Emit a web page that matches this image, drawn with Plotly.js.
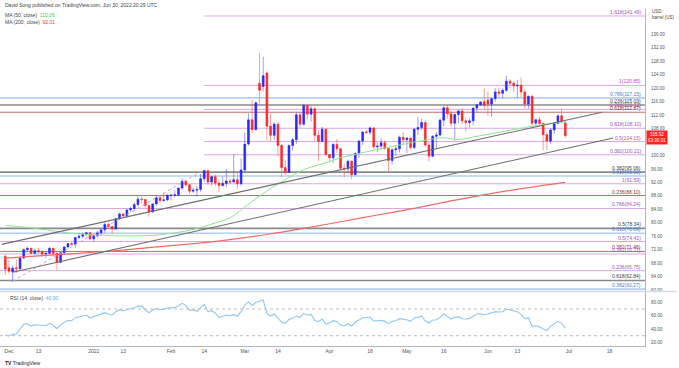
<!DOCTYPE html>
<html><head><meta charset="utf-8">
<script src="https://cdn.plot.ly/plotly-3.0.1.min.js"></script>
<style>html,body{margin:0;padding:0;background:#fff;}#chart{width:679px;height:368px;}</style>
</head><body><div id="chart"></div>
<script>
// ---------- DATA ----------
const firstDay = '2021-11-30', lastDay = '2022-06-30';
const openP = [70.0,66.6,65.4,66.6,66.3,69.5,72.0,72.4,70.9,71.7,71.3,70.7,70.9,72.4,70.9,68.2,71.1,72.8,73.8,73.6,75.6,76.0,76.6,77.0,75.2,76.1,77.0,77.9,79.5,78.9,78.2,81.2,82.6,82.1,83.8,84.2,85.4,87.0,86.9,85.1,83.3,85.6,87.4,86.6,86.8,88.1,88.2,88.3,90.3,92.3,91.3,89.4,89.7,89.9,93.1,95.5,92.1,93.7,91.8,91.1,91.7,92.4,92.1,92.8,91.6,95.7,103.4,110.6,107.7,121.5,120.5,124.5,108.7,106.0,109.3,103.0,96.4,95.0,103.0,104.7,112.1,109.3,114.9,112.3,113.9,106.0,104.2,107.8,100.3,99.3,103.3,102.0,96.2,96.0,98.3,94.3,100.6,104.3,107.0,106.9,108.2,102.6,102.8,103.8,102.1,98.5,101.7,102.0,105.4,104.7,105.2,102.4,107.8,108.3,109.8,103.1,99.8,105.7,106.1,110.5,114.2,112.4,109.6,112.2,113.2,110.3,109.8,110.3,114.1,115.1,116.0,116.5,115.3,116.9,118.9,118.5,119.4,122.1,121.5,120.7,120.9,118.9,115.3,117.6,109.6,110.6,109.5,106.2,104.3,107.6,109.6,111.8,109.7];
const highP = [70.6,69.0,67.3,69.1,69.9,72.4,72.9,72.6,72.2,72.6,71.8,71.4,72.8,72.5,71.0,71.2,72.9,73.9,74.2,75.8,76.9,77.0,77.3,77.2,76.8,77.6,78.3,80.2,80.1,79.0,81.5,83.0,82.9,84.0,84.8,86.0,87.9,87.9,87.1,85.4,85.8,88.0,88.2,88.8,88.4,88.5,89.7,90.4,93.2,92.7,91.4,90.4,91.0,94.5,95.8,95.6,93.8,94.3,92.6,93.7,96.0,93.2,100.5,95.0,99.1,106.8,112.5,116.6,116.0,130.5,129.4,125.0,112.5,110.0,110.2,103.5,98.4,103.2,105.2,112.9,113.0,115.4,115.2,114.8,114.4,107.5,108.5,108.0,100.4,103.6,104.9,102.1,97.6,98.8,98.5,101.0,104.6,107.2,107.6,108.6,108.4,104.0,105.0,104.6,102.4,102.2,103.0,105.9,107.0,105.5,105.4,108.0,111.4,111.0,110.6,103.9,106.1,107.0,111.0,114.6,115.0,113.1,112.5,113.5,114.1,111.0,111.0,114.3,115.4,116.2,120.0,119.0,117.0,120.0,120.0,120.0,123.7,122.7,122.0,122.4,123.2,119.8,117.9,118.1,111.0,111.5,109.8,106.6,108.2,110.0,112.2,114.0,110.4];
const lowP = [64.4,64.8,62.4,65.0,66.0,69.2,71.3,70.6,70.5,70.8,69.8,69.5,70.6,69.9,66.0,68.0,70.8,72.3,73.2,72.6,75.2,75.3,76.0,74.9,74.3,75.6,76.2,77.0,78.3,76.8,77.8,80.8,81.5,81.5,83.3,83.8,84.9,85.7,84.4,81.8,82.8,85.0,86.0,86.3,86.5,86.6,87.6,87.9,89.9,90.7,88.6,88.9,87.8,89.2,92.3,91.3,91.0,90.9,89.2,90.8,90.6,91.5,92.0,90.1,91.0,95.2,103.0,106.6,107.5,115.5,119.0,104.6,104.3,104.6,99.8,93.5,94.2,94.9,101.5,103.5,108.2,109.0,110.7,110.0,104.4,98.4,104.0,99.9,98.0,97.8,100.8,95.7,93.5,94.8,92.9,94.2,99.2,103.1,106.4,106.1,101.9,101.0,101.7,101.6,95.3,97.3,100.0,100.9,103.3,100.8,101.8,101.9,106.0,107.4,102.6,98.2,99.5,101.9,105.7,108.7,111.0,108.6,104.4,109.5,109.2,107.1,108.3,109.0,112.8,114.7,113.5,111.8,111.5,116.0,117.2,117.0,118.9,120.0,118.9,117.1,117.4,114.0,113.9,108.7,108.6,108.6,101.5,101.6,103.5,106.4,109.2,109.5,105.2];
const closeP = [66.2,65.6,66.5,66.3,69.5,72.0,72.4,70.9,71.7,71.3,70.7,70.9,72.4,70.9,68.2,71.1,72.8,73.8,73.6,75.6,76.0,76.6,77.0,75.2,76.1,77.0,77.9,79.5,78.9,78.2,81.2,82.6,82.1,83.8,84.2,85.4,87.0,86.9,85.1,83.3,85.6,87.4,86.6,86.8,88.2,88.2,88.3,90.3,92.3,91.3,89.4,89.7,89.9,93.1,95.5,92.1,93.7,91.8,91.1,91.7,92.4,92.1,92.8,91.6,95.7,103.4,110.6,107.7,115.7,119.4,123.7,108.7,106.0,109.3,103.0,96.4,95.0,103.0,104.7,112.1,109.3,114.9,112.3,113.9,106.0,104.2,107.8,100.3,99.3,103.3,102.0,96.2,96.0,98.3,94.3,100.6,104.3,107.0,106.9,108.2,102.6,102.8,103.8,102.1,98.5,101.7,102.0,105.4,104.7,105.2,102.4,107.8,108.3,109.8,103.1,99.8,105.7,106.1,110.5,114.2,112.4,109.6,112.2,113.2,110.3,109.8,110.3,114.1,115.1,115.9,114.9,115.3,116.9,118.9,118.5,119.4,122.1,121.5,120.7,120.9,118.9,115.3,117.6,109.6,110.6,109.5,106.2,104.3,107.6,109.6,111.8,110.1,105.92];
const rsiVals = [31,29.5,32,32.5,40,47.5,48,44.5,46.5,46,44.5,45,48.5,46,40.5,46.5,50,53,52.5,57,58,60,61,56.5,58.5,60,62,64.5,62.5,61,66,69,67.5,69.5,70.5,72,74.5,74,69,64.5,68.5,71,69,69.5,71.5,71.5,72,75,78.5,75.5,68,68.5,66.5,72,77,66,67.5,64,57,59,61,60,61.5,59.5,66,76,81,75,80,81.5,83.5,63.5,59.5,62.5,57,50.5,48.5,54.5,56,59.5,57.5,63.5,61,62,53,51,55,47.5,49,52.5,51,46,44.5,48,44.5,50.5,53.5,57,57,58,52,52,53,51.5,48,51.5,52.5,55.5,54.5,54,51.5,57,57.5,59.5,52,49,53.5,54,57.5,62.5,59,55,57.5,58.5,55.5,55,56,59.5,62.5,63,61.5,62.5,64,66,65.5,66,70,68.5,67.5,66,62,55.5,57,44,45,43.5,40,38,44,47.5,51.5,48.5,40.9];
const ma50Dates = ['2021-11-30','2021-12-08','2021-12-15','2021-12-22','2021-12-29','2022-01-05','2022-01-12','2022-01-19','2022-01-26','2022-02-02','2022-02-09','2022-02-16','2022-02-23','2022-03-02','2022-03-09','2022-03-16','2022-03-23','2022-03-30','2022-04-06','2022-04-13','2022-04-20','2022-04-27','2022-05-04','2022-05-11','2022-05-16','2022-05-20','2022-05-26','2022-06-01','2022-06-08','2022-06-15','2022-06-22','2022-06-30'];
const ma50Vals = [79.2,78.6,77.9,77.1,76.6,76.3,76.1,76.1,76.3,77.0,78.0,79.6,81.5,85.5,89.5,92.8,95.8,97.5,99.3,100.6,101.8,102.9,104.0,104.9,105.3,104.7,105.5,106.3,107.3,108.3,109.2,110.06];
const ma200Dates = ['2021-11-30','2021-12-15','2021-12-29','2022-01-12','2022-01-26','2022-02-09','2022-02-23','2022-03-09','2022-03-23','2022-04-06','2022-04-20','2022-05-04','2022-05-18','2022-06-01','2022-06-15','2022-06-30'];
const ma200Vals = [69.5,70.3,71.0,71.8,72.8,73.8,75.0,76.5,78.3,80.3,82.3,84.3,86.5,88.5,90.3,92.01];
// trendlines: [startDate, startPrice, endDate, endPrice]
const trendUpper = ['2021-11-29', 73.57, '2022-07-14', 112.85];
const trendLower = ['2021-12-02', 65.3, '2022-07-19', 105.2];
const fibConnector = ['2021-12-02', 62.6, '2022-02-14', 95.8];
// fib levels
const fibRatio = ['1.618','1','0.786','0.236','0.786','0.618','0.618','0.5','0.382','0.382','0.618','1','0.236','0.786','0.5','0.618','0.5','0.382','0.382','0.236','0.618','0.382'];
const fibPrice = [141.49,120.85,117.15,115.03,113.72,112.87,108.10,104.15,100.21,95.06,93.90,91.59,88.10,84.24,78.34,76.89,74.42,71.46,70.71,65.75,62.84,60.27];
const fibTool = ['p','p','b','g','p','r','p','p','p','g','b','p','r','p','g','b','p','r','p','p','g','b'];
const fibFrom = ['2022-02-14','2022-02-14',null,null,'2022-02-14',null,'2022-02-14','2022-02-14','2022-02-14',null,null,null,null,null,null,null,null,null,null,null,null,null];
const tickDates = ['2021-12-01','2021-12-13','2022-01-03','2022-01-13','2022-02-01','2022-02-14','2022-03-01','2022-03-14','2022-04-01','2022-04-18','2022-05-02','2022-05-16','2022-06-01','2022-06-13','2022-07-01','2022-07-18'];
const tickText = ['Dec','13','2022','13','Feb','14','Mar','14','Apr','18','May','16','Jun','13','Jul','18'];
const priceTicks = [60,64,68,72,76,80,84,88,92,96,100,108,112,116,120,124,128,132,136];
const rsiTicks = [20,40,60,80];
const lastPrice = 105.92, ma50Last = 110.06, ma200Last = 92.01, rsiLast = 40.90;

// ---------- HELPERS ----------
const DAY = 86400000;
function barIndex(s){
  const t = Date.parse(s+'T00:00:00Z'), t0 = Date.parse(firstDay+'T00:00:00Z');
  let n = 0, d = t0; const step = t >= t0 ? 1 : -1;
  while (d !== t){ d += step*DAY; const w = new Date(d).getUTCDay(); if (w!==0 && w!==6) n += step; }
  return n;
}
const N = closeP.length;
const idx = closeP.map((_, i) => i);
const X0 = -1.44, X1 = 173.64;

// colours
const UP = '#1f1fff', DN = '#ff1f1f', UPW = 'rgba(60,60,255,0.5)', DNW = 'rgba(255,60,60,0.5)';
const toolLine = {p:'#d8a8e4', b:'#b4cff6', g:'#8a8a8a', r:'#c46a6a'};
const toolText = {p:'#a652c4', b:'#4c7de0', g:'#3a3a3a', r:'#9c2a2a'};
const toolW = {p:1, b:1.6, g:1.6, r:1};

// ---------- TRACES ----------
const traces = [];
function wick(up){
  const xs=[], ys=[];
  for (let i=0;i<N;i++){ const isUp = closeP[i] >= openP[i]; if (isUp!==up) continue; xs.push(i,i,null); ys.push(lowP[i],highP[i],null); }
  return {type:'scatter', mode:'lines', x:xs, y:ys, line:{color: up?UPW:DNW, width:1}, hoverinfo:'skip', showlegend:false, xaxis:'x', yaxis:'y'};
}
traces.push(wick(true), wick(false));
traces.push({type:'candlestick', x:idx, open:openP, close:closeP,
  high: openP.map((o,i)=>Math.max(o,closeP[i])), low: openP.map((o,i)=>Math.min(o,closeP[i])),
  increasing:{line:{color:UP,width:0.6}, fillcolor:UP}, decreasing:{line:{color:DN,width:0.6}, fillcolor:DN},
  whiskerwidth:0, hoverinfo:'skip', showlegend:false, xaxis:'x', yaxis:'y'});
traces.push({type:'scatter', mode:'lines', x:ma50Dates.map(barIndex), y:ma50Vals, line:{color:'#8fe58f', width:1, shape:'spline'}, hoverinfo:'skip', showlegend:false});
traces.push({type:'scatter', mode:'lines', x:ma200Dates.map(barIndex), y:ma200Vals, line:{color:'#f06a6a', width:1.2, shape:'spline'}, hoverinfo:'skip', showlegend:false});
function seg(a, color, w, dash){
  return {type:'scatter', mode:'lines', x:[barIndex(a[0]), barIndex(a[2])], y:[a[1], a[3]], line:{color, width:w, dash:dash||'solid'}, hoverinfo:'skip', showlegend:false};
}
traces.push(seg(trendUpper,'#6e6e6e',1.1));
traces.push(seg(trendLower,'#6e6e6e',1.1));
traces.push(seg(fibConnector,'#cf9adf',1,'dot'));
traces.push({type:'scatter', mode:'lines', x:idx, y:rsiVals, line:{color:'#8cc8f8', width:1.1}, hoverinfo:'skip', showlegend:false, xaxis:'x', yaxis:'y2'});

// ---------- LAYOUT ----------
const shapes = [];
const annotations = [];
fibPrice.forEach((p,i)=>{
  const t = fibTool[i];
  shapes.push({type:'line', layer:'below', xref:'x', yref:'y', x0: fibFrom[i] ? barIndex(fibFrom[i]) : X0, x1: X1, y0:p, y1:p, line:{color:toolLine[t], width:toolW[t]}});
  annotations.push({xref:'paper', yref:'y', x:0.997, y:p, xanchor:'right', yanchor:'bottom', yshift:-1, showarrow:false,
    text: fibRatio[i]+'('+p.toFixed(2)+')', font:{size:5, color:toolText[t], family:'Liberation Sans, Arial, sans-serif'}});
});
// RSI bands
[70,30].forEach(v=>shapes.push({type:'line', xref:'paper', yref:'y2', x0:0, x1:1, y0:v, y1:v, line:{color:'#bdbdbd', width:1, dash:'dot'}}));
// pane separator
shapes.push({type:'line', xref:'paper', yref:'paper', x0:0, x1:1.05, y0:0.1617, y1:0.1617, line:{color:'#d6d9e0', width:1.5}});
const F = 'Liberation Sans, Arial, sans-serif';
annotations.push({xref:'paper', yref:'paper', x:0.004, y:1.012, xanchor:'left', yanchor:'middle', showarrow:false,
  text:'David Song published on TradingView.com, Jun 30, 2022 20:29 UTC', font:{size:5, color:'#444', family:F}});
annotations.push({xref:'paper', yref:'paper', x:0.004, y:0.983, xanchor:'left', yanchor:'middle', showarrow:false,
  text:'MA (50, close)  <span style="color:#3fd13f">'+ma50Last.toFixed(2)+'</span>', font:{size:5, color:'#444', family:F}});
annotations.push({xref:'paper', yref:'paper', x:0.004, y:0.962, xanchor:'left', yanchor:'middle', showarrow:false,
  text:'MA (200, close)  <span style="color:#f03c3c">'+ma200Last.toFixed(2)+'</span>', font:{size:5, color:'#444', family:F}});
annotations.push({xref:'paper', yref:'paper', x:0.012, y:0.142, xanchor:'left', yanchor:'middle', showarrow:false,
  text:'RSI (14, close)  <span style="color:#5aa9f0">'+rsiLast.toFixed(2)+'</span>', font:{size:5, color:'#444', family:F}});
annotations.push({xref:'paper', yref:'paper', x:1.008, y:0.985, xanchor:'left', yanchor:'middle', showarrow:false,
  text:'USD<br>barrel (US)', align:'left', font:{size:4.5, color:'#444', family:F}});
annotations.push({xref:'paper', yref:'y', x:1.002, y:lastPrice, xanchor:'left', yanchor:'middle', yshift:-2, showarrow:false,
  text:lastPrice.toFixed(2)+'<br>03:30:31', bgcolor:'#ff2222', borderpad:1, align:'center', font:{size:4.5, color:'#fff', family:F}});
annotations.push({xref:'paper', yref:'paper', x:0.004, y:-0.05, xanchor:'left', yanchor:'middle', showarrow:false,
  text:'<b>TV</b> TradingView', font:{size:5, color:'#222', family:F}});

const layout = {
  width:679, height:368, paper_bgcolor:'#fff', plot_bgcolor:'#fff',
  margin:{l:0, r:34, t:9, b:22}, showlegend:false, font:{family:F},
  xaxis:{range:[X0,X1], anchor:'y2', showgrid:false, zeroline:false, showline:true, linecolor:'#b2b5be', linewidth:1,
    tickvals: tickDates.map(barIndex), ticktext: tickText, ticks:'', tickfont:{size:5, color:'#555'}, rangeslider:{visible:false}, fixedrange:true},
  yaxis:{domain:[0.1632,1], range:[59.70,143.57], side:'right', showgrid:false, zeroline:false, showline:true, linecolor:'#b2b5be', linewidth:1,
    tickvals: priceTicks, ticktext: priceTicks.map(v=>v.toFixed(2)), ticks:'outside', ticklen:4, tickcolor:'rgba(0,0,0,0)', tickfont:{size:4.5, color:'#555'}},
  yaxis2:{domain:[0,0.1602], range:[14.57,95.47], side:'right', showgrid:false, zeroline:false, showline:true, linecolor:'#b2b5be', linewidth:1,
    tickvals: rsiTicks, ticktext: rsiTicks.map(v=>v.toFixed(2)), ticks:'outside', ticklen:4, tickcolor:'rgba(0,0,0,0)', tickfont:{size:4.5, color:'#555'}},
  shapes, annotations
};
Plotly.newPlot('chart', traces, layout, {staticPlot:true, displayModeBar:false});
</script></body></html>
